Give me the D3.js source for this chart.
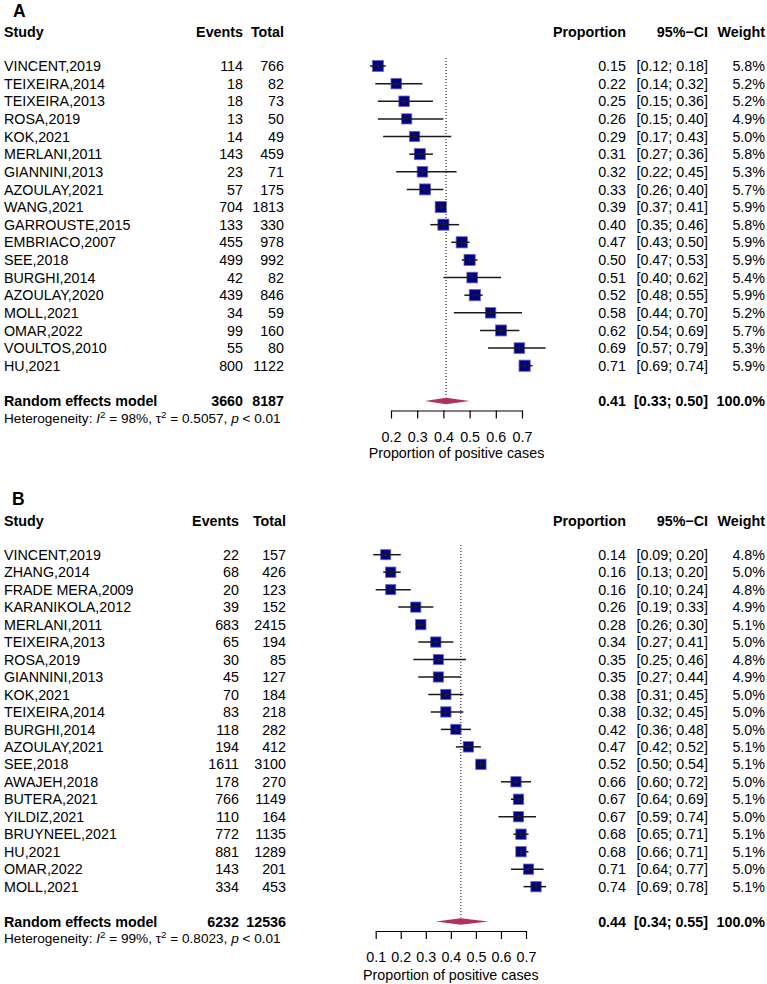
<!DOCTYPE html>
<html><head><meta charset="utf-8">
<script src="https://cdn.jsdelivr.net/npm/d3@7"></script>
<style>
html,body{margin:0;padding:0;background:#fff;}
text{font-family:"Liberation Sans",Arial,sans-serif;fill:#000;}
</style></head>
<body>
<svg id="chart" width="767" height="984"></svg>
<script>
// ---------- Panel A data ----------
const studiesA = ["VINCENT,2019","TEIXEIRA,2014","TEIXEIRA,2013","ROSA,2019","KOK,2021","MERLANI,2011","GIANNINI,2013","AZOULAY,2021","WANG,2021","GARROUSTE,2015","EMBRIACO,2007","SEE,2018","BURGHI,2014","AZOULAY,2020","MOLL,2021","OMAR,2022","VOULTOS,2010","HU,2021"];
const eventsA  = [114,18,18,13,14,143,23,57,704,133,455,499,42,439,34,99,55,800];
const totalsA  = [766,82,73,50,49,459,71,175,1813,330,978,992,82,846,59,160,80,1122];
const propA    = [0.15,0.22,0.25,0.26,0.29,0.31,0.32,0.33,0.39,0.40,0.47,0.50,0.51,0.52,0.58,0.62,0.69,0.71];
const lowerA   = [0.12,0.14,0.15,0.15,0.17,0.27,0.22,0.26,0.37,0.35,0.43,0.47,0.40,0.48,0.44,0.54,0.57,0.69];
const upperA   = [0.18,0.32,0.36,0.40,0.43,0.36,0.45,0.40,0.41,0.46,0.50,0.53,0.62,0.55,0.70,0.69,0.79,0.74];
const weightA  = [5.8,5.2,5.2,4.9,5.0,5.8,5.3,5.7,5.9,5.8,5.9,5.9,5.4,5.9,5.2,5.7,5.3,5.9];
const summaryA = {events:3660,total:8187,prop:0.41,lower:0.33,upper:0.50,weight:"100.0%"};
const hetA     = {I2:"98%",tau2:"0.5057",p:"< 0.01"};
const ticksA   = [0.2,0.3,0.4,0.5,0.6,0.7];

// ---------- Panel B data ----------
const studiesB = ["VINCENT,2019","ZHANG,2014","FRADE MERA,2009","KARANIKOLA,2012","MERLANI,2011","TEIXEIRA,2013","ROSA,2019","GIANNINI,2013","KOK,2021","TEIXEIRA,2014","BURGHI,2014","AZOULAY,2021","SEE,2018","AWAJEH,2018","BUTERA,2021","YILDIZ,2021","BRUYNEEL,2021","HU,2021","OMAR,2022","MOLL,2021"];
const eventsB  = [22,68,20,39,683,65,30,45,70,83,118,194,1611,178,766,110,772,881,143,334];
const totalsB  = [157,426,123,152,2415,194,85,127,184,218,282,412,3100,270,1149,164,1135,1289,201,453];
const propB    = [0.14,0.16,0.16,0.26,0.28,0.34,0.35,0.35,0.38,0.38,0.42,0.47,0.52,0.66,0.67,0.67,0.68,0.68,0.71,0.74];
const lowerB   = [0.09,0.13,0.10,0.19,0.26,0.27,0.25,0.27,0.31,0.32,0.36,0.42,0.50,0.60,0.64,0.59,0.65,0.66,0.64,0.69];
const upperB   = [0.20,0.20,0.24,0.33,0.30,0.41,0.46,0.44,0.45,0.45,0.48,0.52,0.54,0.72,0.69,0.74,0.71,0.71,0.77,0.78];
const weightB  = [4.8,5.0,4.8,4.9,5.1,5.0,4.8,4.9,5.0,5.0,5.0,5.1,5.1,5.0,5.1,5.0,5.1,5.1,5.0,5.1];
const summaryB = {events:6232,total:12536,prop:0.44,lower:0.34,upper:0.55,weight:"100.0%"};
const hetB     = {I2:"99%",tau2:"0.8023",p:"< 0.01"};
const ticksB   = [0.1,0.2,0.3,0.4,0.5,0.6,0.7];

const svg = d3.select("#chart");
const FS = 14.3;
const f2 = d3.format(".2f");

function drawPanel(p){
  const g = svg.append("g");
  const x = d3.scaleLinear().domain([p.ticks[0], p.ticks[p.ticks.length-1]]).range(p.xRange);
  const rowY = i => p.row0 + i*p.rowStep;
  const n = p.studies.length;
  const size = d3.scaleSqrt().domain([0, 5.0]).range([0, 10.3]);

  // panel letter
  g.append("text").attr("x", p.labelX).attr("y", p.labelY).attr("dy","0.36em")
    .attr("font-size", 17.5).attr("font-weight","bold").text(p.label);

  // headers
  const hdr = [
    {t:"Study", x:4, a:"start"},
    {t:"Events", x:p.evX, a:"end"},
    {t:"Total", x:p.totX, a:"end"},
    {t:"Proportion", x:626, a:"end"},
    {t:"95%\u2212CI", x:708, a:"end"},
    {t:"Weight", x:765, a:"end"}
  ];
  g.selectAll("text.hdr").data(hdr).join("text").attr("class","hdr")
    .attr("x", d=>d.x).attr("y", p.headerY).attr("dy","0.36em")
    .attr("text-anchor", d=>d.a).attr("font-size",FS).attr("font-weight","bold").text(d=>d.t);

  // study rows text
  const idx = d3.range(n);
  const cols = [
    {x:4, a:"start", f:i=>p.studies[i]},
    {x:p.evX, a:"end", f:i=>p.events[i]},
    {x:p.totX, a:"end", f:i=>p.totals[i]},
    {x:626, a:"end", f:i=>f2(p.prop[i])},
    {x:708, a:"end", f:i=>"["+f2(p.lower[i])+"; "+f2(p.upper[i])+"]"},
    {x:765, a:"end", f:i=>p.weight[i].toFixed(1)+"%"}
  ];
  cols.forEach(c=>{
    g.append("g").selectAll("text").data(idx).join("text")
      .attr("x", c.x).attr("y", i=>rowY(i)).attr("dy","0.36em")
      .attr("text-anchor", c.a).attr("font-size",FS).text(c.f);
  });

  // summary row text
  const s = p.summary;
  const sumCols = [
    {x:4, a:"start", t:"Random effects model"},
    {x:p.evX, a:"end", t:s.events},
    {x:p.totX, a:"end", t:s.total},
    {x:626, a:"end", t:f2(s.prop)},
    {x:708, a:"end", t:"["+f2(s.lower)+"; "+f2(s.upper)+"]"},
    {x:765, a:"end", t:s.weight}
  ];
  g.selectAll("text.sum").data(sumCols).join("text").attr("class","sum")
    .attr("x", d=>d.x).attr("y", p.sumY).attr("dy","0.36em")
    .attr("text-anchor", d=>d.a).attr("font-size",FS).attr("font-weight","bold").text(d=>d.t);

  // heterogeneity
  const ht = g.append("text").attr("x",4).attr("y",p.hetY).attr("dy","0.36em").attr("font-size",13.6);
  ht.append("tspan").text("Heterogeneity: ");
  ht.append("tspan").attr("font-style","italic").text("I");
  ht.append("tspan").attr("font-size",9.8).attr("dy","-5").text("2");
  ht.append("tspan").attr("dy","5").text(" = "+p.het.I2+", \u03C4");
  ht.append("tspan").attr("font-size",9.8).attr("dy","-5").text("2");
  ht.append("tspan").attr("dy","5").text(" = "+p.het.tau2+", ");
  ht.append("tspan").attr("font-style","italic").text("p");
  ht.append("tspan").text(" "+p.het.p);

  // reference dotted line at summary estimate
  g.append("line").attr("x1", x(s.prop)).attr("x2", x(s.prop))
    .attr("y1", p.refTop).attr("y2", p.sumY-4)
    .attr("stroke","#000").attr("stroke-width",1).attr("stroke-dasharray","1,2");

  // boxes
  g.append("g").selectAll("rect").data(idx).join("rect")
    .attr("x", i=>x(p.prop[i]) - size(p.weight[i])/2)
    .attr("y", i=>rowY(i) - size(p.weight[i])/2)
    .attr("width", i=>size(p.weight[i])).attr("height", i=>size(p.weight[i]))
    .attr("fill","#00008B").attr("stroke","#6a6ab8").attr("stroke-width",0.8);

  // CI lines
  g.append("g").selectAll("line").data(idx).join("line")
    .attr("x1", i=>x(p.lower[i])).attr("x2", i=>x(p.upper[i]))
    .attr("y1", i=>rowY(i)).attr("y2", i=>rowY(i))
    .attr("stroke","#1a1a1a").attr("stroke-width",1.5);
  g.append("g").selectAll("line").data(idx).join("line")
    .attr("x1", i=>x(p.prop[i])).attr("x2", i=>x(p.prop[i]))
    .attr("y1", i=>rowY(i)-2.5).attr("y2", i=>rowY(i)+2.5)
    .attr("stroke","#222").attr("stroke-width",1);

  // diamond
  const dh = 3.2;
  g.append("path")
    .attr("d", d3.line()([[x(s.lower),p.sumY],[x(s.prop),p.sumY-dh],[x(s.upper),p.sumY],[x(s.prop),p.sumY+dh]])+"Z")
    .attr("fill","#B03060");

  // axis
  const ax = g.append("g").attr("transform",`translate(0,${p.axisY})`)
    .call(d3.axisBottom(x).tickValues(p.ticks).tickFormat(d3.format(".1f"))
      .tickSize(8).tickSizeOuter(0).tickPadding(13));
  ax.select(".domain").attr("stroke","#000").attr("stroke-width",1.2);
  ax.selectAll(".tick line").attr("stroke","#000").attr("stroke-width",1.2);
  ax.selectAll(".tick text").attr("font-size",FS).attr("font-family","Liberation Sans, Arial, sans-serif").attr("fill","#000");

  g.append("text").attr("x", (p.xRange[0]+p.xRange[1])/2).attr("y", p.titleY).attr("dy","0.36em")
    .attr("text-anchor","middle").attr("font-size",FS).text("Proportion of positive cases");
}

drawPanel({
  label:"A", labelX:13, labelY:11,
  studies:studiesA, events:eventsA, totals:totalsA, prop:propA, lower:lowerA, upper:upperA, weight:weightA,
  summary:summaryA, het:hetA, ticks:ticksA,
  xRange:[391,522], row0:66, rowStep:17.63, headerY:32, sumY:401, hetY:417.7,
  evX:243, totX:284, refTop:58, axisY:410.5, titleY:453
});
drawPanel({
  label:"B", labelX:12, labelY:499,
  studies:studiesB, events:eventsB, totals:totalsB, prop:propB, lower:lowerB, upper:upperB, weight:weightB,
  summary:summaryB, het:hetB, ticks:ticksB,
  xRange:[375.7,526], row0:554.7, rowStep:17.47, headerY:520.7, sumY:921.5, hetY:938,
  evX:239, totX:286, refTop:545, axisY:931, titleY:975
});
</script>
</body></html>
